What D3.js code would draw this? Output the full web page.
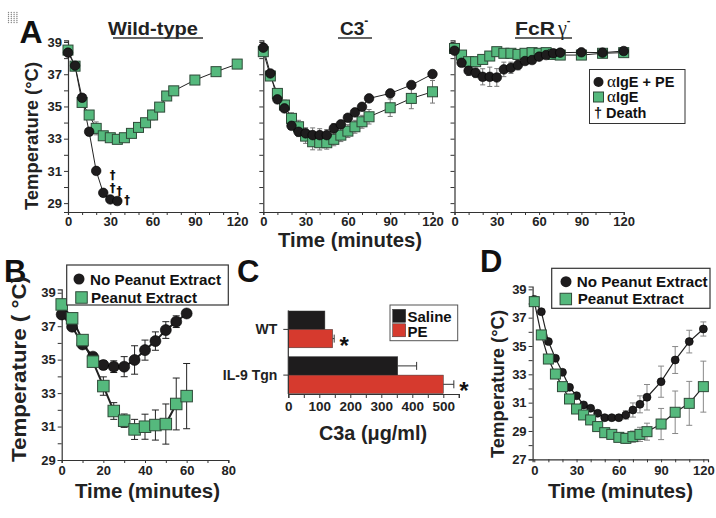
<!DOCTYPE html>
<html><head><meta charset="utf-8">
<script src="https://cdn.jsdelivr.net/npm/d3@7"></script>
<style>
body{margin:0;background:#fff;}
svg{font-family:"Liberation Sans",Arial,Helvetica,sans-serif;font-weight:bold;}
</style></head><body>
<svg id="c" width="716" height="518"></svg>
<script>
// ---------------- DATA ----------------
// Panel A
const timeA = [0,5,10,15,20,25,30,35,40,45,50,55,60,65,70,75,90,105,120];
const timeWtPE = [0,5,10,15,20,25,30,35];
const wtPE    = [38.34,37.53,35.54,33.43,31.0,29.64,29.23,29.13];
const wtPEErr = [0.1,0.1,0.15,0.2,0.2,0.1,0.1,0.1];
const wtIgE    = [38.5,37.5,35.25,34.47,33.64,33.18,33.06,32.96,33.06,33.33,33.7,33.99,34.47,34.96,35.65,35.97,36.64,37.16,37.63];
const wtIgEErr = [0.1,0.1,0.15,0.2,0.4,0.25,0.2,0.15,0.15,0.15,0.2,0.25,0.3,0.2,0.15,0.15,0.15,0.1,0.1];
const deathTimes = [31.7,31.7,36.4,42];
const deathTemps = [30.75,30.0,29.8,29.2];
const c3PE    = [38.65,37.05,35.44,34.88,33.8,33.43,33.33,33.22,33.22,33.22,33.64,33.89,34.3,34.63,34.98,35.5,35.81,36.33,37.01];
const c3PEErr = [0.1,0.15,0.2,0.2,0.2,0.3,0.35,0.45,0.4,0.35,0.3,0.2,0.2,0.2,0.2,0.2,0.2,0.2,0.2];
const c3IgE    = [38.4,36.89,35.81,35.09,34.26,33.74,33.16,32.81,32.75,32.75,32.96,33.22,33.47,33.74,34.05,34.36,34.92,35.5,35.91];
const c3IgEErr = [0.1,0.2,0.25,0.3,0.35,0.4,0.45,0.5,0.45,0.4,0.4,0.4,0.4,0.4,0.4,0.45,0.54,0.64,0.7];
const fcPE    = [38.46,37.71,37.22,37.09,36.84,36.84,36.8,37.3,37.4,37.57,37.82,37.88,38.09,38.19,38.3,38.34,38.36,38.34,38.44];
const fcPEErr = [0.1,0.15,0.3,0.3,0.5,0.6,0.55,0.45,0.35,0.3,0.2,0.15,0.1,0.1,0.1,0.1,0.1,0.1,0.1];
const fcIgE    = [38.6,38.19,37.78,37.78,37.92,38.13,38.4,38.3,38.3,38.23,38.3,38.34,38.3,38.34,38.23,38.19,38.19,38.3,38.34];
const fcIgEErr = [0.1,0.1,0.1,0.1,0.1,0.1,0.1,0.1,0.1,0.1,0.1,0.1,0.1,0.1,0.1,0.1,0.1,0.1,0.1];
const tempTicksA = [29,30,31,32,33,34,35,36,37,38,39];
const tempLabelsA = [29,31,33,35,37,39];
const timeTicksA = [0,10,20,30,40,50,60,70,80,90,100,110,120];
const timeLabelsA = [0,30,60,90,120];
// Panel B
const timeB = [0,5,10,15,20,25,30,35,40,45,50,55,60];
const bNo    = [37.7,36.97,35.91,35.18,34.68,34.58,34.58,34.98,35.57,36.11,36.77,37.27,37.76];
const bNoErr = [0.1,0.15,0.15,0.2,0.25,0.35,0.6,0.85,0.6,0.55,0.5,0.35,0.1];
const bPE    = [38.3,37.47,36.17,34.88,33.42,31.93,31.35,30.83,30.99,31.09,31.15,32.35,32.82];
const bPEErr = [0.1,0.15,0.2,0.25,0.55,0.5,0.4,0.6,0.75,0.9,1.2,1.55,1.95];
const tempTicksB = [29,30,31,32,33,34,35,36,37,38,39];
const tempLabelsB = [29,31,33,35,37,39];
const timeTicksB = [0,10,20,30,40,50,60,70,80];
const timeLabelsB = [0,20,40,60,80];
// Panel C
const groupsC = ["WT","IL-9 Tgn"];
const treatC = ["Saline","PE"];
const c3aSaline = [118,353];
const c3aSalineErr = [0,61];
const c3aPE = [143,500];
const c3aPEErr = [5,34];
const c3aTicks = [0,50,100,150,200,250,300,350,400,450,500,550];
const c3aLabels = [0,100,200,300,400,500];
// Panel D
const timeD = [0,5,10,15,20,25,30,35,40,45,50,55,60,65,70,75,80,90,100,110,120];
const dNo    = [38.29,37.42,35.31,34.13,33.14,32.08,31.49,30.84,30.6,30.25,29.94,29.94,29.94,30.13,30.48,30.88,31.38,32.48,34.01,35.31,36.2];
const dNoErr = [0.1,0.1,0.15,0.15,0.15,0.15,0.15,0.15,0.15,0.15,0.15,0.15,0.2,0.3,0.5,0.6,0.9,1.1,0.95,0.8,0.5];
const dPE    = [38.13,35.78,34.08,33.02,32.13,31.26,30.55,30.13,29.78,29.31,28.88,28.76,28.55,28.48,28.6,28.76,28.95,29.49,30.32,30.95,32.13];
const dPEErr = [0.1,0.15,0.15,0.15,0.15,0.15,0.15,0.15,0.15,0.2,0.2,0.25,0.3,0.35,0.4,0.5,0.6,1.1,1.5,1.55,1.8];
const tempTicksD = [27,28,29,30,31,32,33,34,35,36,37,38,39];
const tempLabelsD = [27,29,31,33,35,37,39];
const timeTicksD = [0,10,20,30,40,50,60,70,80,90,100,110,120];
const timeLabelsD = [0,30,60,90,120];

// ---------------- STYLE ----------------
const GREEN = "#55b97d", GREEN_STROKE = "#2e4a38", BLACK = "#1e1c1d", RED = "#d63a2e";
const svg = d3.select("#c");

function styleAxis(sel, fs) {
  sel.attr("font-family", null).attr("font-size", null);
  sel.select(".domain").attr("stroke", "#333").attr("stroke-width", 1.2);
  sel.selectAll(".tick line").attr("stroke", "#333").attr("stroke-width", 1);
  sel.selectAll(".tick text").attr("font-size", fs).attr("font-weight", "bold").attr("fill", "#222");
}

function drawPanel(p) {
  const x = d3.scaleLinear().domain(p.xd).range(p.xr);
  const y = d3.scaleLinear().domain(p.yd).range(p.yr);
  const g = svg.append("g");
  const xa = d3.axisBottom(x).tickValues(p.xt).tickSizeOuter(0).tickSize(3).tickPadding(p.xpad || 3)
     .tickFormat(d => p.xl.includes(d) ? d : "");
  g.append("g").attr("transform", `translate(0,${p.yr[0]})`).call(xa).call(s => styleAxis(s, 13));
  const ya = d3.axisLeft(y).tickValues(p.yt).tickSizeOuter(0).tickSize(4).tickPadding(2)
     .tickFormat(d => (p.yl && p.yl.includes(d)) ? d : "");
  g.append("g").attr("transform", `translate(${p.xr[0]},0)`).call(ya).call(s => styleAxis(s, 13));
  p.series.forEach(s => {
    const pts = s.t.map((t, i) => ({t, v: s.v[i], e: s.e[i]}));
    const eg = g.append("g").attr("stroke", p.errColor).attr("stroke-width", 1);
    pts.forEach(d => {
      if (!d.e) return;
      const y1 = y(d.v - d.e), y2 = y(d.v + d.e), cx = x(d.t);
      eg.append("line").attr("x1", cx).attr("x2", cx).attr("y1", y1).attr("y2", y2);
      eg.append("line").attr("x1", cx - p.cap).attr("x2", cx + p.cap).attr("y1", y1).attr("y2", y1);
      eg.append("line").attr("x1", cx - p.cap).attr("x2", cx + p.cap).attr("y1", y2).attr("y2", y2);
    });
    s.pts = pts;
  });
  p.series.forEach(s => {
    g.append("path").datum(s.pts).attr("fill", "none").attr("stroke", "#222").attr("stroke-width", p.lw)
      .attr("d", d3.line().x(d => x(d.t)).y(d => y(d.v)));
  });
  p.series.forEach(s => {
    if (s.shape === "circle") {
      g.append("g").selectAll("circle").data(s.pts).join("circle")
        .attr("cx", d => x(d.t)).attr("cy", d => y(d.v)).attr("r", p.r)
        .attr("fill", BLACK).attr("stroke", "#000").attr("stroke-width", 0.6);
    } else {
      g.append("g").selectAll("rect").data(s.pts).join("rect")
        .attr("x", d => x(d.t) - p.sq / 2).attr("y", d => y(d.v) - p.sq / 2)
        .attr("width", p.sq).attr("height", p.sq)
        .attr("fill", GREEN).attr("stroke", GREEN_STROKE).attr("stroke-width", 1);
    }
  });
  return {x, y, g};
}

// dotted icon
for (let i = 0; i < 4; i++) for (let j = 0; j < 6; j++)
  svg.append("circle").attr("cx", 8.5 + i * 2.8).attr("cy", 12.5 + j * 2).attr("r", 0.7).attr("fill", "#888");

// panel letters
const letter = (t, x, y, fs) => svg.append("text").attr("x", x).attr("y", y).attr("font-size", fs).attr("fill", "#111").text(t);
letter("A", 19.5, 43, 32);
letter("B", 4, 282, 31);
letter("C", 237, 282, 31);
letter("D", 480, 272, 31);

// ---------- Panel A ----------
const yDomA = [28.45, 39.1], yRngA = [212, 40.4];
const leftsA = [68, 263.3, 454.5];
const wAx = 169.2;
const capA = 2.5;
const pa1 = drawPanel({xd:[0,120], xr:[leftsA[0], leftsA[0]+wAx], yd:yDomA, yr:yRngA, xt:timeTicksA, xl:timeLabelsA, xpad:2,
  yt:tempTicksA, yl:tempLabelsA, lw:1, r:4.8, sq:10, cap:capA, errColor:"#777",
  series:[{t:timeA, v:wtIgE, e:wtIgEErr, shape:"square"}, {t:timeWtPE, v:wtPE, e:wtPEErr, shape:"circle"}]});
drawPanel({xd:[0,120], xr:[leftsA[1], leftsA[1]+wAx], yd:yDomA, yr:yRngA, xt:timeTicksA, xl:timeLabelsA, xpad:2,
  yt:tempTicksA, yl:null, lw:1, r:4.8, sq:10, cap:capA, errColor:"#777",
  series:[{t:timeA, v:c3IgE, e:c3IgEErr, shape:"square"}, {t:timeA, v:c3PE, e:c3PEErr, shape:"circle"}]});
drawPanel({xd:[0,120], xr:[leftsA[2], leftsA[2]+wAx], yd:yDomA, yr:yRngA, xt:timeTicksA, xl:timeLabelsA, xpad:2,
  yt:tempTicksA, yl:null, lw:1, r:4.8, sq:10, cap:capA, errColor:"#777",
  series:[{t:timeA, v:fcIgE, e:fcIgEErr, shape:"square"}, {t:timeA, v:fcPE, e:fcPEErr, shape:"circle"}]});

// death daggers
deathTimes.forEach((t, i) => {
  svg.append("text").attr("x", pa1.x(t)).attr("y", pa1.y(deathTemps[i]) + 4.5).attr("text-anchor", "middle")
    .attr("font-family", "DejaVu Sans").attr("font-size", 11.5).attr("font-weight", "bold").attr("fill", "#111").text("\u2020");
});

// titles
function title(parts, x, ux1, ux2) {
  const t = svg.append("text").attr("x", x).attr("y", 35).attr("font-size", 19).attr("fill", "#222");
  parts(t);
  svg.append("line").attr("x1", ux1).attr("x2", ux2).attr("y1", 38).attr("y2", 38).attr("stroke", "#333").attr("stroke-width", 1.4);
}
title(t => t.text("Wild-type").attr("textLength", 90).attr("lengthAdjust", "spacingAndGlyphs"), 108, 113, 203);
title(t => { t.append("tspan").text("C3"); t.append("tspan").attr("dy", -10).attr("font-size", 12).text("-"); }, 340, 338, 372);
title(t => { t.append("tspan").text("FcR").attr("textLength", 40).attr("lengthAdjust", "spacingAndGlyphs");
             t.append("tspan").attr("dx", 3).attr("font-family", "Liberation Serif").attr("font-weight", "normal").attr("font-size", 20).text("\u03B3");
             t.append("tspan").attr("dy", -11).attr("dx", 0).attr("font-size", 11).text("-"); }, 515, 515, 572);

// axis titles A
svg.append("text").attr("transform", "translate(38,136) rotate(-90)").attr("text-anchor", "middle")
  .attr("font-size", 19).attr("fill", "#222").attr("textLength", 148).attr("lengthAdjust", "spacingAndGlyphs").text("Temperature (°C)");
svg.append("text").attr("x", 350).attr("y", 246.5).attr("text-anchor", "middle").attr("font-size", 20).attr("fill", "#222")
  .attr("textLength", 144).attr("lengthAdjust", "spacingAndGlyphs").text("Time (minutes)");

// legend A
const lgA = svg.append("g");
lgA.append("rect").attr("x", 589.5).attr("y", 69.5).attr("width", 95.5).attr("height", 54).attr("fill", "#fff").attr("stroke", "#333").attr("stroke-width", 1);
lgA.append("circle").attr("cx", 598.5).attr("cy", 82).attr("r", 5).attr("fill", BLACK);
lgA.append("rect").attr("x", 593.5).attr("y", 92).attr("width", 10).attr("height", 10).attr("fill", GREEN).attr("stroke", GREEN_STROKE);
const la1 = lgA.append("text").attr("x", 607).attr("y", 87).attr("font-size", 14.5).attr("fill", "#111");
la1.append("tspan").attr("font-family", "Liberation Serif").attr("font-weight", "normal").attr("font-size", 17).text("\u03B1");
la1.append("tspan").text("IgE + PE");
const la2 = lgA.append("text").attr("x", 607).attr("y", 102).attr("font-size", 14.5).attr("fill", "#111");
la2.append("tspan").attr("font-family", "Liberation Serif").attr("font-weight", "normal").attr("font-size", 17).text("\u03B1");
la2.append("tspan").text("IgE");
lgA.append("text").attr("x", 594).attr("y", 117.5).attr("font-size", 14.5).attr("fill", "#111").text("\u2020 Death");

// ---------- Panel B ----------
drawPanel({xd:[0,80], xr:[61.7,228.3], yd:[29,39.2], yr:[460,289.4], xt:timeTicksB, xl:timeLabelsB,
  yt:tempTicksB, yl:tempLabelsB, lw:2, r:5.5, sq:11.5, cap:3.5, errColor:"#222",
  series:[{t:timeB, v:bNo, e:bNoErr, shape:"circle"}, {t:timeB, v:bPE, e:bPEErr, shape:"square"}]});
svg.append("text").attr("transform", "translate(26,369) rotate(-90)").attr("text-anchor", "middle")
  .attr("font-size", 21).attr("fill", "#222").attr("textLength", 186).attr("lengthAdjust", "spacingAndGlyphs").text("Temperature ( °C)");
svg.append("text").attr("x", 147.5).attr("y", 498).attr("text-anchor", "middle").attr("font-size", 20).attr("fill", "#222")
  .attr("textLength", 145).attr("lengthAdjust", "spacingAndGlyphs").text("Time (minutes)");
function legendNP(x, y, w, h, cx, cy, sx, sy, tx, b1, b2) {
  const lg = svg.append("g");
  lg.append("rect").attr("x", x).attr("y", y).attr("width", w).attr("height", h).attr("fill", "#fff").attr("stroke", "#333").attr("stroke-width", 1.2);
  lg.append("circle").attr("cx", cx).attr("cy", cy).attr("r", 5.5).attr("fill", BLACK);
  lg.append("rect").attr("x", sx - 5.75).attr("y", sy - 5.75).attr("width", 11.5).attr("height", 11.5).attr("fill", GREEN).attr("stroke", GREEN_STROKE);
  lg.append("text").attr("x", tx).attr("y", b1).attr("font-size", 15.5).attr("fill", "#111").attr("textLength", 131).attr("lengthAdjust", "spacingAndGlyphs").text("No Peanut Extract");
  lg.append("text").attr("x", tx + 1).attr("y", b2).attr("font-size", 15.5).attr("fill", "#111").attr("textLength", 106).attr("lengthAdjust", "spacingAndGlyphs").text("Peanut Extract");
}
legendNP(66.7, 265, 161.6, 40, 79, 279, 81.5, 297.5, 90, 284.5, 302.5);

// ---------- Panel C ----------
const xC = d3.scaleLinear().domain([0, 550]).range([288.3, 458.8]);
const yC = d3.scaleBand().domain(groupsC).range([311, 393.5]).paddingInner(0.195).paddingOuter(0);
const ySub = d3.scaleBand().domain(treatC).range([0, yC.bandwidth()]);
const gC = svg.append("g");
const valsC = {Saline: c3aSaline, PE: c3aPE};
const errsC = {Saline: c3aSalineErr, PE: c3aPEErr};
const colC = {Saline: BLACK, PE: RED};
groupsC.forEach((grp, i) => {
  treatC.forEach(tr => {
    const yy = yC(grp) + ySub(tr);
    const v = valsC[tr][i], e = errsC[tr][i];
    gC.append("rect").attr("x", xC(0)).attr("y", yy).attr("width", xC(v) - xC(0)).attr("height", ySub.bandwidth())
      .attr("fill", colC[tr]).attr("stroke", "#333").attr("stroke-width", 0.5);
    if (e) {
      const cy = yy + ySub.bandwidth() / 2;
      gC.append("line").attr("x1", xC(v)).attr("x2", xC(v + e)).attr("y1", cy).attr("y2", cy).attr("stroke", "#333").attr("stroke-width", 1);
      gC.append("line").attr("x1", xC(v + e)).attr("x2", xC(v + e)).attr("y1", cy - 4).attr("y2", cy + 4).attr("stroke", "#333").attr("stroke-width", 1);
    }
    if (tr === "PE") {
      gC.append("text").attr("x", xC(v + e) + 10).attr("y", yy + ySub.bandwidth() / 2 + 15).attr("text-anchor", "middle")
        .attr("font-size", 24).attr("fill", "#111").text("*");
    }
  });
});
gC.append("g").attr("transform", "translate(0,394)")
  .call(d3.axisBottom(xC).tickValues(c3aTicks).tickSizeOuter(0).tickSize(4).tickPadding(3).tickFormat(d => c3aLabels.includes(d) ? d : ""))
  .call(s => styleAxis(s, 13.5));
const yAxC = gC.append("g").attr("transform", `translate(${xC(0)},0)`)
  .call(d3.axisLeft(yC).tickSizeOuter(0).tickSize(5).tickPadding(6))
  .call(s => styleAxis(s, 14));
yAxC.select(".domain").attr("d", "M0,310.5V394");
svg.append("text").attr("x", 373).attr("y", 440).attr("text-anchor", "middle").attr("font-size", 20).attr("fill", "#222")
  .attr("textLength", 108).attr("lengthAdjust", "spacingAndGlyphs").text("C3a (\u03BCg/ml)");
const lgC = svg.append("g");
lgC.append("rect").attr("x", 390).attr("y", 305).attr("width", 67.7).attr("height", 35.7).attr("fill", "#fff").attr("stroke", "#555").attr("stroke-width", 1);
treatC.forEach((tr, i) => {
  lgC.append("rect").attr("x", 392.7).attr("y", 309.3 + i * 14.5).attr("width", 13).attr("height", 13).attr("fill", colC[tr]).attr("stroke", "#333").attr("stroke-width", 0.5);
  lgC.append("text").attr("x", 407.5).attr("y", 321.5 + i * 15).attr("font-size", 15).attr("fill", "#111").text(tr);
});

// ---------- Panel D ----------
drawPanel({xd:[-1.2,123.3], xr:[532.6,708], yd:[27,39.2], yr:[459.3,286.5], xt:timeTicksD, xl:timeLabelsD,
  yt:tempTicksD, yl:tempLabelsD, lw:1.2, r:4, sq:10, cap:3, errColor:"#888",
  series:[{t:timeD, v:dNo, e:dNoErr, shape:"circle"}, {t:timeD, v:dPE, e:dPEErr, shape:"square"}]});
svg.append("text").attr("transform", "translate(504,384) rotate(-90)").attr("text-anchor", "middle")
  .attr("font-size", 19).attr("fill", "#222").attr("textLength", 148).attr("lengthAdjust", "spacingAndGlyphs").text("Temperature (°C)");
svg.append("text").attr("x", 620.5).attr("y", 498).attr("text-anchor", "middle").attr("font-size", 20).attr("fill", "#222")
  .attr("textLength", 145).attr("lengthAdjust", "spacingAndGlyphs").text("Time (minutes)");
legendNP(551.7, 268.3, 158.3, 40, 566, 281.7, 565.8, 299, 576.7, 286.5, 304);
</script>
</body></html>
